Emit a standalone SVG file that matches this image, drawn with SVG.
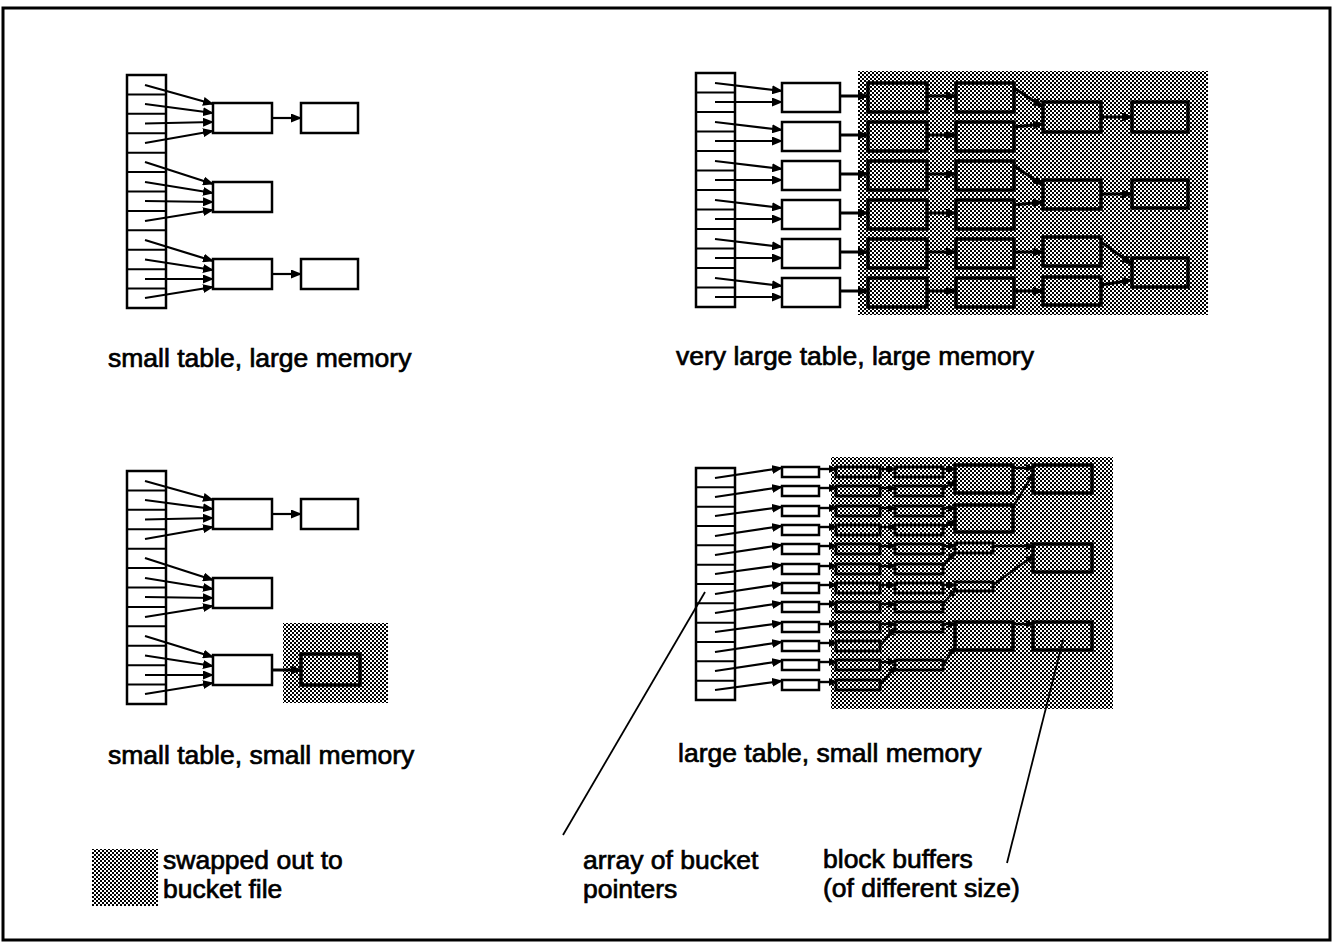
<svg xmlns="http://www.w3.org/2000/svg" width="1333" height="943" viewBox="0 0 1333 943">
<defs>
<pattern id="dither" patternUnits="userSpaceOnUse" x="0" y="0" width="4" height="4">
<rect width="4" height="4" fill="#fff"/>
<rect width="2" height="2" fill="#000"/>
<rect x="2" y="2" width="2" height="2" fill="#000"/>
</pattern>
<marker id="ah" markerUnits="userSpaceOnUse" markerWidth="11" markerHeight="9" refX="10" refY="4.5" orient="auto"><path d="M0,0 L11,4.5 L0,9 z" fill="#000"/></marker>
<marker id="ahs" markerUnits="userSpaceOnUse" markerWidth="8" markerHeight="8" refX="7" refY="4" orient="auto"><path d="M0,0 L8,4 L0,8 z" fill="#000"/></marker>
</defs>
<style>
.w{fill:#fff;stroke:#000;stroke-width:2.5}
.t{fill:none;stroke:#000;stroke-width:3.5}
.ts{fill:none;stroke:#000;stroke-width:2.8}
.sh{fill:url(#dither)}
.c{fill:none;stroke:#000;stroke-width:2.2;marker-end:url(#ah)}
.cd{fill:none;stroke:#000;stroke-width:3;marker-end:url(#ah)}
.cs{fill:none;stroke:#000;stroke-width:2.4;marker-end:url(#ahs)}
.ln{fill:none;stroke:#000;stroke-width:1.8}
.cell{fill:none;stroke:#000;stroke-width:2}
text{font-family:"Liberation Sans",Arial,Helvetica,sans-serif;font-size:26.5px;fill:#000;stroke:#000;stroke-width:0.7}
</style>
<rect x="3" y="8" width="1327" height="932" fill="none" stroke="#000" stroke-width="3"/>

<!-- Panel 1: small table, large memory -->
<g id="p1-array">
<rect class="w" x="127" y="75" width="39" height="233"/>
<path class="cell" d="M127,94.4H166M127,113.8H166M127,133.3H166M127,152.7H166M127,172.1H166M127,191.5H166M127,210.9H166M127,230.3H166M127,249.8H166M127,269.2H166M127,288.6H166"/>
</g>
<g id="p1-bucketA"><rect class="w" x="213" y="103" width="59" height="30"/></g>
<g id="p1-bucketB"><rect class="w" x="213" y="182" width="59" height="30"/></g>
<g id="p1-bucketC"><rect class="w" x="213" y="259" width="59" height="30"/></g>
<g id="p1-blockA"><rect class="w" x="301" y="103" width="57" height="30"/></g>
<g id="p1-blockC"><rect class="w" x="301" y="259" width="57" height="30"/></g>
<g id="p1-connectors">
<path class="c" d="M145,85L213,104"/><path class="c" d="M145,104L213,113"/><path class="c" d="M145,123.5L213,122"/><path class="c" d="M145,143L213,131"/>
<path class="c" d="M145,162L213,184"/><path class="c" d="M145,182L213,193"/><path class="c" d="M145,201L213,202"/><path class="c" d="M145,221L213,210"/>
<path class="c" d="M145,240L213,261"/><path class="c" d="M145,259.5L213,270"/><path class="c" d="M145,279L213,279"/><path class="c" d="M145,298L213,287"/>
<path class="c" d="M272,118H301"/><path class="c" d="M272,274H301"/>
</g>
<text x="108" y="367">small table, large memory</text>

<!-- Panel 3: small table, small memory -->
<rect class="sh" x="283" y="623" width="105" height="80"/>
<g id="p3-array">
<rect class="w" x="127" y="471" width="39" height="233"/>
<path class="cell" d="M127,490.4H166M127,509.8H166M127,529.3H166M127,548.7H166M127,568.1H166M127,587.5H166M127,606.9H166M127,626.3H166M127,645.8H166M127,665.2H166M127,684.6H166"/>
</g>
<g id="p3-bucketA"><rect class="w" x="213" y="499" width="59" height="30"/></g>
<g id="p3-bucketB"><rect class="w" x="213" y="578" width="59" height="30"/></g>
<g id="p3-bucketC"><rect class="w" x="213" y="655" width="59" height="30"/></g>
<g id="p3-blockA"><rect class="w" x="301" y="499" width="57" height="30"/></g>
<g id="p3-blockC"><rect class="t" x="301" y="654" width="59" height="31"/></g>
<g id="p3-connectors">
<path class="c" d="M145,481L213,500"/><path class="c" d="M145,500L213,509"/><path class="c" d="M145,519.5L213,518"/><path class="c" d="M145,539L213,527"/>
<path class="c" d="M145,558L213,580"/><path class="c" d="M145,578L213,589"/><path class="c" d="M145,597L213,598"/><path class="c" d="M145,617L213,606"/>
<path class="c" d="M145,636L213,657"/><path class="c" d="M145,655.5L213,666"/><path class="c" d="M145,675L213,675"/><path class="c" d="M145,694L213,683"/>
<path class="c" d="M272,514H301"/><path class="cd" d="M272,670H301"/>
</g>
<text x="108" y="764">small table, small memory</text>

<!-- Panel 2: very large table, large memory -->
<rect class="sh" x="858" y="71" width="350" height="244"/>
<g id="p2-array">
<rect class="w" x="696" y="73" width="39" height="234"/>
<path class="cell" d="M696,92.5H735M696,112H735M696,131.5H735M696,151H735M696,170.5H735M696,190H735M696,209.5H735M696,229H735M696,248.5H735M696,268H735M696,287.5H735"/>
</g>
<g id="p2-col1">
<rect class="w" x="782" y="83" width="58" height="29"/><rect class="w" x="782" y="122" width="58" height="29"/><rect class="w" x="782" y="161" width="58" height="29"/><rect class="w" x="782" y="200" width="58" height="29"/><rect class="w" x="782" y="239" width="58" height="29"/><rect class="w" x="782" y="278" width="58" height="29"/>
</g>
<g id="p2-col2">
<rect class="t" x="868" y="83" width="59" height="29"/><rect class="t" x="868" y="122" width="59" height="29"/><rect class="t" x="868" y="161" width="59" height="29"/><rect class="t" x="868" y="200" width="59" height="29"/><rect class="t" x="868" y="239" width="59" height="29"/><rect class="t" x="868" y="278" width="59" height="29"/>
</g>
<g id="p2-col3">
<rect class="t" x="956" y="83" width="58" height="29"/><rect class="t" x="956" y="122" width="58" height="29"/><rect class="t" x="956" y="161" width="58" height="29"/><rect class="t" x="956" y="200" width="58" height="29"/><rect class="t" x="956" y="239" width="58" height="29"/><rect class="t" x="956" y="278" width="58" height="29"/>
</g>
<g id="p2-col4">
<rect class="t" x="1043" y="102" width="58" height="30"/><rect class="t" x="1043" y="180" width="58" height="29"/><rect class="t" x="1043" y="237" width="58" height="29"/><rect class="t" x="1043" y="277" width="58" height="28"/>
</g>
<g id="p2-col5">
<rect class="t" x="1132" y="102" width="56" height="30"/><rect class="t" x="1132" y="180" width="56" height="28"/><rect class="t" x="1132" y="258" width="56" height="29"/>
</g>
<g id="p2-connectors">
<path class="c" d="M715,83L782,91"/><path class="c" d="M715,102L782,102"/>
<path class="c" d="M715,122L782,130"/><path class="c" d="M715,141L782,141"/>
<path class="c" d="M715,161L782,169"/><path class="c" d="M715,180L782,180"/>
<path class="c" d="M715,200L782,208"/><path class="c" d="M715,219L782,219"/>
<path class="c" d="M715,239L782,247"/><path class="c" d="M715,258L782,258"/>
<path class="c" d="M715,278L782,286"/><path class="c" d="M715,297L782,297"/>
<path class="cd" d="M840,96H868"/><path class="cd" d="M840,135H868"/><path class="cd" d="M840,174H868"/><path class="cd" d="M840,213H868"/><path class="cd" d="M840,252H868"/><path class="cd" d="M840,291H868"/>
<path class="cd" d="M927,96H956"/><path class="cd" d="M927,135H956"/><path class="cd" d="M927,174H956"/><path class="cd" d="M927,213H956"/><path class="cd" d="M927,252H956"/><path class="cd" d="M927,291H956"/>
<path class="cd" d="M1014,88L1043,107"/><path class="cd" d="M1014,127L1043,124"/>
<path class="cd" d="M1014,166L1043,185"/><path class="cd" d="M1014,205L1043,202"/>
<path class="cd" d="M1014,252H1043"/><path class="cd" d="M1014,291H1043"/>
<path class="cd" d="M1101,117H1132"/><path class="cd" d="M1101,194H1132"/>
<path class="cd" d="M1101,242L1132,264"/><path class="cd" d="M1101,285L1132,280"/>
</g>
<text x="676" y="365">very large table, large memory</text>

<!-- Panel 4: large table, small memory -->
<rect class="sh" x="831" y="457" width="282" height="252"/>
<g id="p4-array">
<rect class="w" x="696" y="468" width="39" height="232"/>
<path class="cell" d="M696,487.3H735M696,506.7H735M696,526H735M696,545.3H735M696,564.7H735M696,584H735M696,603.3H735M696,622.7H735M696,642H735M696,661.3H735M696,680.7H735"/>
</g>
<g id="p4-col1">
<rect class="w" x="782" y="467" width="37" height="10"/><rect class="w" x="782" y="486" width="37" height="10"/><rect class="w" x="782" y="506" width="37" height="10"/><rect class="w" x="782" y="525" width="37" height="10"/><rect class="w" x="782" y="544" width="37" height="10"/><rect class="w" x="782" y="564" width="37" height="10"/><rect class="w" x="782" y="583" width="37" height="10"/><rect class="w" x="782" y="602" width="37" height="10"/><rect class="w" x="782" y="622" width="37" height="10"/><rect class="w" x="782" y="641" width="37" height="10"/><rect class="w" x="782" y="660" width="37" height="10"/><rect class="w" x="782" y="680" width="37" height="10"/>
</g>
<g id="p4-col2">
<rect class="ts" x="836" y="467" width="44" height="10"/><rect class="ts" x="836" y="486" width="44" height="10"/><rect class="ts" x="836" y="506" width="44" height="10"/><rect class="ts" x="836" y="525" width="44" height="10"/><rect class="ts" x="836" y="544" width="44" height="10"/><rect class="ts" x="836" y="564" width="44" height="10"/><rect class="ts" x="836" y="583" width="44" height="10"/><rect class="ts" x="836" y="602" width="44" height="10"/><rect class="ts" x="836" y="622" width="44" height="10"/><rect class="ts" x="836" y="641" width="44" height="10"/><rect class="ts" x="836" y="660" width="44" height="10"/><rect class="ts" x="836" y="680" width="44" height="10"/>
</g>
<g id="p4-col3">
<rect class="ts" x="895" y="467" width="48" height="10"/><rect class="ts" x="895" y="486" width="48" height="10"/><rect class="ts" x="895" y="506" width="48" height="10"/><rect class="ts" x="895" y="525" width="48" height="10"/><rect class="ts" x="895" y="544" width="48" height="10"/><rect class="ts" x="895" y="564" width="48" height="10"/><rect class="ts" x="895" y="583" width="48" height="10"/><rect class="ts" x="895" y="602" width="48" height="10"/><rect class="ts" x="895" y="622" width="48" height="10"/><rect class="ts" x="895" y="660" width="48" height="10"/>
</g>
<g id="p4-col4">
<rect class="t" x="955" y="465" width="58" height="28"/><rect class="t" x="955" y="505" width="58" height="27"/><rect class="ts" x="955" y="543" width="38" height="10"/><rect class="ts" x="955" y="582" width="38" height="9"/><rect class="t" x="955" y="622" width="58" height="28"/>
</g>
<g id="p4-col5">
<rect class="t" x="1033" y="465" width="59" height="28"/><rect class="t" x="1033" y="544" width="59" height="28"/><rect class="t" x="1033" y="622" width="59" height="28"/>
</g>
<g id="p4-connectors">
<path class="c" d="M715,478L782,468"/><path class="c" d="M715,497L782,487"/><path class="c" d="M715,516L782,507"/><path class="c" d="M715,536L782,526"/><path class="c" d="M715,555L782,545"/><path class="c" d="M715,574L782,565"/><path class="c" d="M715,594L782,584"/><path class="c" d="M715,613L782,603"/><path class="c" d="M715,632L782,623"/><path class="c" d="M715,652L782,642"/><path class="c" d="M715,671L782,661"/><path class="c" d="M715,690L782,681"/>
<path class="cs" d="M819,469H836"/><path class="cs" d="M819,488H836"/><path class="cs" d="M819,508H836"/><path class="cs" d="M819,527H836"/><path class="cs" d="M819,546H836"/><path class="cs" d="M819,566H836"/><path class="cs" d="M819,585H836"/><path class="cs" d="M819,604H836"/><path class="cs" d="M819,624H836"/><path class="cs" d="M819,643H836"/><path class="cs" d="M819,662H836"/><path class="cs" d="M819,682H836"/>
<path class="cs" d="M880,469H895"/><path class="cs" d="M880,488H895"/><path class="cs" d="M880,508H895"/><path class="cs" d="M880,527H895"/><path class="cs" d="M880,546H895"/><path class="cs" d="M880,566H895"/><path class="cs" d="M880,585H895"/><path class="cs" d="M880,604H895"/><path class="cs" d="M880,624H895"/><path class="cs" d="M880,646L895,628"/><path class="cs" d="M880,662H895"/><path class="cs" d="M880,685L895,667"/>
<path class="cs" d="M943,469H955"/><path class="cs" d="M943,488L955,482"/>
<path class="cs" d="M943,508H955"/><path class="cs" d="M943,527L955,521"/>
<path class="cs" d="M943,546H955"/><path class="cs" d="M943,566L955,552"/>
<path class="cs" d="M943,585H955"/><path class="cs" d="M943,604L955,590"/>
<path class="cs" d="M943,624H955"/><path class="cs" d="M943,665L955,647"/>
<path class="cs" d="M1013,468H1033"/><path class="cs" d="M1013,507L1033,474"/>
<path class="cs" d="M993,546H1033"/><path class="cs" d="M993,585L1033,556"/>
<path class="cs" d="M1013,624H1033"/>
</g>
<text x="678" y="762">large table, small memory</text>

<!-- Legend and annotations -->
<g id="legend">
<rect class="sh" x="92" y="849" width="66" height="57"/>
<text x="163" y="869">swapped out to</text>
<text x="163" y="898">bucket file</text>
</g>
<g id="annotations">
<path class="ln" d="M563,835L705,592"/>
<path class="ln" d="M1007,863L1063,640"/>
<text x="583" y="869">array of bucket</text>
<text x="583" y="898">pointers</text>
<text x="823" y="868">block buffers</text>
<text x="823" y="897">(of different size)</text>
</g>
</svg>
